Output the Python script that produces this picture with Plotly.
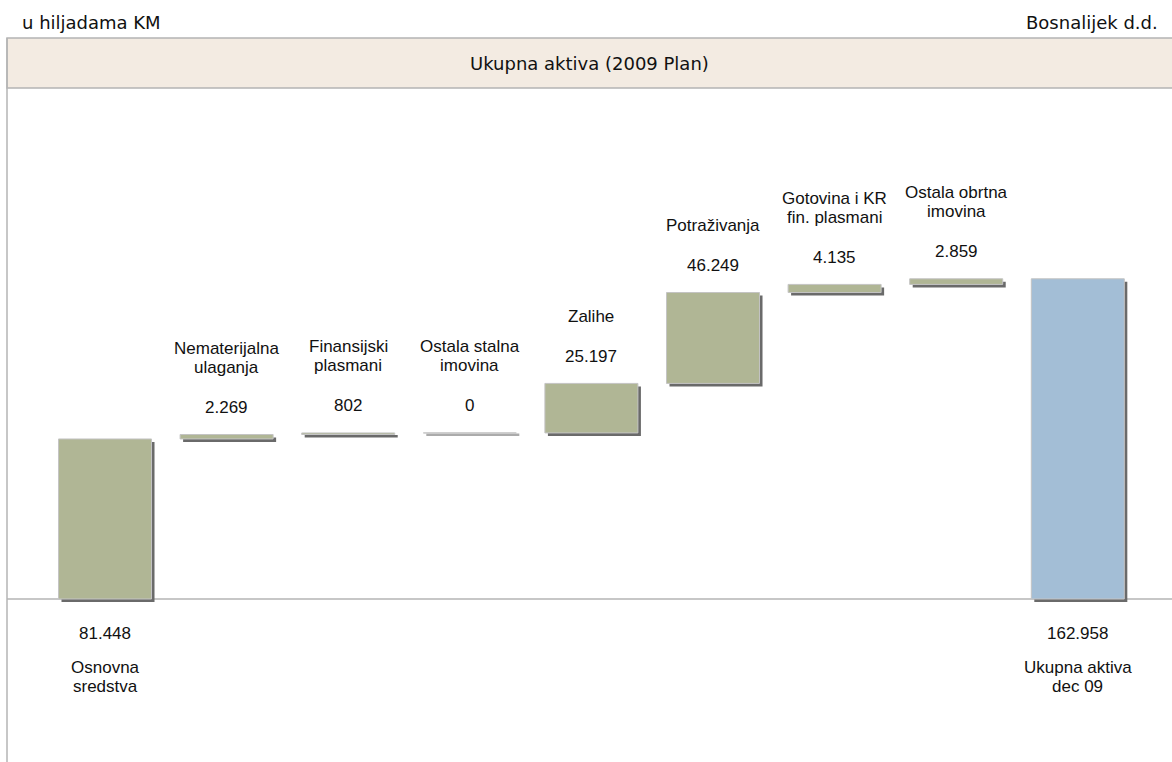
import plotly.graph_objects as go

# ---- data ----
categories = ["Osnovna<br>sredstva", "Nematerijalna<br>ulaganja", "Finansijski<br>plasmani",
              "Ostala stalna<br>imovina", "Zalihe", "Potraživanja",
              "Gotovina i KR<br>fin. plasmani", "Ostala obrtna<br>imovina", "Ukupna aktiva<br>dec 09"]
values = [81.448, 2.269, 0.802, 0.0, 25.197, 46.249, 4.135, 2.859, 162.958]
value_labels = ["81.448", "2.269", "802", "0", "25.197", "46.249", "4.135", "2.859", "162.958"]
kinds = ["total", "delta", "delta", "delta", "delta", "delta", "delta", "delta", "total"]

GREEN = "#B0B695"
BLUE = "#A3BED6"
SHADOW = "#6A6A6A"
SHADOW_EMPTY = "#ABABAB"
EDGE = "#C4C4C4"
GRID = "#B4B4B4"

# cumulative bases
bases, tops = [], []
run = 0.0
for v, k in zip(values, kinds):
    if k == "total":
        bases.append(0.0)
        tops.append(v)
        run = v
    else:
        bases.append(run)
        run += v
        tops.append(run)
heights = [t - b for t, b in zip(tops, bases)]
x = list(range(len(categories)))
colors = [BLUE if i == len(categories) - 1 else GREEN for i in x]
shadow_colors = [SHADOW if h > 0 else SHADOW_EMPTY for h in heights]

# geometry helpers
W, H = 1172, 762
ML, MT = 7, 38
px_per_unit_x = 121.6
xr = [-0.806, -0.806 + (W - ML) / px_per_unit_x]
ymin, ymax = -82.95, 285.5
px_per_unit_y = (H - MT) / (ymax - ymin)
bw = 0.765
dx = 3 / px_per_unit_x
dy = 3 / px_per_unit_y
min_h = 2.5 / px_per_unit_y

fig = go.Figure()
# shadow
fig.add_trace(go.Bar(
    x=x, y=[max(h, min_h) for h in heights], base=[b - dy for b in bases],
    width=bw, offset=-bw / 2 + dx,
    marker=dict(color=shadow_colors, line=dict(width=0)), hoverinfo="skip", showlegend=False))
# bars
fig.add_trace(go.Bar(
    x=x, y=heights, base=bases, width=bw, offset=-bw / 2,
    marker=dict(color=colors, line=dict(color=EDGE, width=1)),
    hoverinfo="skip", showlegend=False))

LFONT = dict(family="Liberation Sans, Arial, sans-serif", size=17, color="#111")
HFONT = dict(family="DejaVu Sans, Verdana, sans-serif", size=18, color="#111")
LINE_GAP = 19
ann = []
for i, (c, vl, k) in enumerate(zip(categories, value_labels, kinds)):
    lines = c.split("<br>")
    if k == "total":
        ann.append(dict(x=i, y=0, text=vl, showarrow=False, yshift=-34, yanchor="middle", font=LFONT))
        for j, ln in enumerate(lines):
            ann.append(dict(x=i, y=0, text=ln, showarrow=False, yshift=-68 - j * LINE_GAP,
                            yanchor="middle", font=LFONT))
    else:
        ann.append(dict(x=i, y=tops[i], text=vl, showarrow=False, yshift=27, yanchor="middle", font=LFONT))
        n = len(lines)
        for j, ln in enumerate(lines):
            ann.append(dict(x=i, y=tops[i], text=ln, showarrow=False,
                            yshift=27 + 40 + (n - 1 - j) * LINE_GAP, yanchor="middle", font=LFONT))

title_h = 50 / (H - MT)
ann.append(dict(xref="paper", yref="paper", x=0.5, y=1 - title_h / 2, text="Ukupna aktiva (2009 Plan)",
                showarrow=False, yanchor="middle", xanchor="center", font=HFONT))
ann.append(dict(xref="paper", yref="paper", x=(20 - ML) / (W - ML), y=1, yshift=16, xanchor="left",
                yanchor="middle", text="u hiljadama KM", showarrow=False, font=HFONT))
ann.append(dict(xref="paper", yref="paper", x=(1160 - ML) / (W - ML), y=1, yshift=16, xanchor="right",
                yanchor="middle", text="Bosnalijek d.d.", showarrow=False, font=HFONT))

shapes = [
    dict(type="rect", xref="paper", yref="paper", x0=0, x1=1.01, y0=1 - title_h, y1=1,
         fillcolor="#F3EBE2", line=dict(color=GRID, width=1.5), layer="below"),
    dict(type="line", xref="paper", yref="paper", x0=0, x1=0, y0=0, y1=1,
         line=dict(color=GRID, width=1.5)),
    dict(type="line", xref="paper", yref="y", x0=0, x1=1, y0=0, y1=0,
         line=dict(color=GRID, width=1.5), layer="below"),
]

fig.update_layout(
    width=W, height=H, barmode="overlay",
    margin=dict(l=ML, r=0, t=MT, b=0, pad=0),
    paper_bgcolor="white", plot_bgcolor="white",
    font=LFONT,
    xaxis=dict(range=xr, showticklabels=False, showgrid=False, zeroline=False, fixedrange=True),
    yaxis=dict(range=[ymin, ymax], showticklabels=False, showgrid=False, zeroline=False, fixedrange=True),
    annotations=ann, shapes=shapes, showlegend=False,
)

fig.write_html("out.html", config={"displayModeBar": False},
               post_script="document.body.style.margin='0';document.body.style.overflow='hidden';")
